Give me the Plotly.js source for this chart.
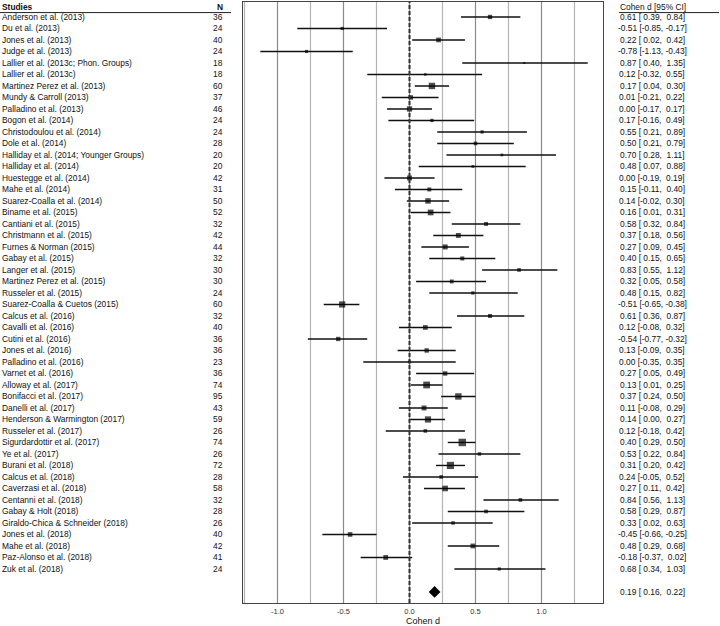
<!DOCTYPE html>
<html>
<head>
<meta charset="utf-8">
<script src="https://cdn.plot.ly/plotly-3.0.1.min.js"></script>
<style>html,body{margin:0;padding:0;background:#fff;}#chart{width:720px;height:626px;}</style>
</head>
<body>
<div id="chart"></div>
<script>
const studies = [
  "Anderson et al. (2013)", "Du et al. (2013)", "Jones et al. (2013)", "Judge et al. (2013)",
  "Lallier et al. (2013c; Phon. Groups)", "Lallier et al. (2013c)", "Martinez Perez et al. (2013)",
  "Mundy & Carroll (2013)", "Palladino et al. (2013)", "Bogon et al. (2014)", "Christodoulou et al. (2014)",
  "Dole et al. (2014)", "Halliday et al. (2014; Younger Groups)", "Halliday et al. (2014)",
  "Huestegge et al. (2014)", "Mahe et al. (2014)", "Suarez-Coalla et al. (2014)", "Biname et al. (2015)",
  "Cantiani et al. (2015)", "Christmann et al. (2015)", "Furnes & Norman (2015)", "Gabay et al. (2015)",
  "Langer et al. (2015)", "Martinez Perez et al. (2015)", "Russeler et al. (2015)",
  "Suarez-Coalla & Cuetos (2015)", "Calcus et al. (2016)", "Cavalli et al. (2016)", "Cutini et al. (2016)",
  "Jones et al. (2016)", "Palladino et al. (2016)", "Varnet et al. (2016)", "Alloway et al. (2017)",
  "Bonifacci et al. (2017)", "Danelli et al. (2017)", "Henderson & Warmington (2017)",
  "Russeler et al. (2017)", "Sigurdardottir et al. (2017)", "Ye et al. (2017)", "Burani et al. (2018)",
  "Calcus et al. (2018)", "Caverzasi et al. (2018)", "Centanni et al. (2018)", "Gabay & Holt (2018)",
  "Giraldo-Chica & Schneider (2018)", "Jones et al. (2018)", "Mahe et al. (2018)",
  "Paz-Alonso et al. (2018)", "Zuk et al. (2018)"
];
const nSizes = [36,24,40,24,18,18,60,37,46,24,24,28,20,20,42,31,50,52,32,42,44,32,30,30,24,60,32,40,36,36,23,36,74,95,43,59,26,74,26,72,28,58,32,28,26,40,42,41,24];
const cohenD = [0.61,-0.51,0.22,-0.78,0.87,0.12,0.17,0.01,0.00,0.17,0.55,0.50,0.70,0.48,0.00,0.15,0.14,0.16,0.58,0.37,0.27,0.40,0.83,0.32,0.48,-0.51,0.61,0.12,-0.54,0.13,0.00,0.27,0.13,0.37,0.11,0.14,0.12,0.40,0.53,0.31,0.24,0.27,0.84,0.58,0.33,-0.45,0.48,-0.18,0.68];
const ciLow = [0.39,-0.85,0.02,-1.13,0.40,-0.32,0.04,-0.21,-0.17,-0.16,0.21,0.21,0.28,0.07,-0.19,-0.11,-0.02,0.01,0.32,0.18,0.09,0.15,0.55,0.05,0.15,-0.65,0.36,-0.08,-0.77,-0.09,-0.35,0.05,0.01,0.24,-0.08,0.00,-0.18,0.29,0.22,0.20,-0.05,0.11,0.56,0.29,0.02,-0.66,0.29,-0.37,0.34];
const ciHigh = [0.84,-0.17,0.42,-0.43,1.35,0.55,0.30,0.22,0.17,0.49,0.89,0.79,1.11,0.88,0.19,0.40,0.30,0.31,0.84,0.56,0.45,0.65,1.12,0.58,0.82,-0.38,0.87,0.32,-0.32,0.35,0.35,0.49,0.25,0.50,0.29,0.27,0.42,0.50,0.84,0.42,0.52,0.42,1.13,0.87,0.63,-0.25,0.68,0.02,1.03];
const summaryD = 0.19, summaryLow = 0.16, summaryHigh = 0.22;
const tickVals = [-1, -0.5, 0, 0.5, 1];
const tickText = ["-1.0", "-0.5", "0.0", "0.5", "1.0"];

const NB = "\u00A0";
const rows = studies.map((s, i) => i + 1);
const summaryRow = studies.length + 2;

// marker size from inverse-variance weights
const weights = ciLow.map((lo, i) => Math.pow(3.92 / (ciHigh[i] - lo), 2));
const wMin = Math.min(...weights), wMax = Math.max(...weights);
const sizes = weights.map(w => 2 + 5.5 * Math.sqrt((w - wMin) / (wMax - wMin)));

function pad(v) { return (v >= 0 ? NB : "") + v.toFixed(2); }
function ciText(d, lo, hi) { return d.toFixed(2) + " [" + pad(lo) + "," + NB + pad(hi) + "]"; }

const FONT = "Liberation Sans, Arial, sans-serif";
const TXT = 8.4;
const plotL = 243, plotR = 603, plotW = plotR - plotL;
const px = p => (p - plotL) / plotW;

const annotations = [];
function addText(x, y, text, anchor) {
  annotations.push({xref: "paper", yref: "y", x: x, y: y, text: text, showarrow: false,
    xanchor: anchor, yanchor: "middle", borderpad: 0, font: {family: FONT, size: TXT, color: "#111"}});
}
studies.forEach((s, i) => {
  addText(px(1), rows[i], s, "left");
  addText(px(224), rows[i], String(nSizes[i]), "right");
  addText(px(652), rows[i], ciText(cohenD[i], ciLow[i], ciHigh[i]), "center");
});
addText(px(652), summaryRow, ciText(summaryD, summaryLow, summaryHigh), "center");
// headers
addText(px(1), 0.13, "<b>Studies</b>", "left");
addText(px(224), 0.13, "<b>N</b>", "right");
addText(px(619), 0.13, "Cohen d [95% CI]", "left");

// vertical reference grid: major at labelled ticks, minor half-way between (plus one beyond each end)
const shapes = [];
const step = tickVals[1] - tickVals[0];
tickVals.forEach(v => {
  shapes.push({type: "line", xref: "x", yref: "paper", x0: v, x1: v, y0: 0, y1: 1, layer: "below",
    line: {color: "#8a8a8a", width: 1.2}});
});
[tickVals[0] - step / 2].concat(tickVals.map(v => v + step / 2)).forEach(v => {
  shapes.push({type: "line", xref: "x", yref: "paper", x0: v, x1: v, y0: 0, y1: 1, layer: "below",
    line: {color: "#b4b4b4", width: 1.2}});
});
shapes.push(
  {type: "line", xref: "x", yref: "paper", x0: 0, x1: 0, y0: 0, y1: 1,
   line: {color: "#333", width: 2, dash: "4px,2px"}},
  {type: "line", xref: "paper", yref: "y", x0: px(0), x1: px(231), y0: 0.62, y1: 0.62,
   line: {color: "#222", width: 1}},
  {type: "line", xref: "paper", yref: "y", x0: px(619), x1: px(719), y0: 0.62, y1: 0.62,
   line: {color: "#222", width: 1}}
);

const traces = [
  {type: "scatter", mode: "markers", x: cohenD, y: rows,
   marker: {symbol: "square", size: sizes, color: "#000", line: {width: 0}},
   error_x: {type: "data", symmetric: false,
     array: ciHigh.map((h, i) => h - cohenD[i]),
     arrayminus: ciLow.map((l, i) => cohenD[i] - l),
     width: 0, thickness: 1.4, color: "#111"},
   hoverinfo: "skip", showlegend: false},
  {type: "scatter", mode: "markers", x: [summaryD], y: [summaryRow],
   marker: {symbol: "diamond", size: 9, color: "#000", line: {width: 0}},
   hoverinfo: "skip", showlegend: false}
];

const layout = {
  width: 720, height: 626,
  margin: {l: plotL, r: 720 - plotR, t: 2, b: 23, pad: 0},
  paper_bgcolor: "#fff", plot_bgcolor: "#fff",
  font: {family: FONT, color: "#111"},
  showlegend: false,
  xaxis: {
    range: [-1.2614, 1.4659], tickmode: "array", tickvals: tickVals, ticktext: tickText,
    showgrid: false, zeroline: false, showline: true, mirror: true, linecolor: "#444", linewidth: 1,
    ticks: "", ticklabelstandoff: 1, tickfont: {family: FONT, size: 7.5, color: "#333"},
    title: {text: "Cohen d", font: {family: FONT, size: 9, color: "#111"}, standoff: 3},
    fixedrange: true
  },
  yaxis: {
    range: [51.96, -0.30], showticklabels: false, showgrid: false, zeroline: false,
    showline: true, mirror: true, linecolor: "#444", linewidth: 1, ticks: "", fixedrange: true
  },
  annotations: annotations,
  shapes: shapes
};

Plotly.newPlot("chart", traces, layout, {displayModeBar: false, staticPlot: true});
</script>
</body>
</html>
